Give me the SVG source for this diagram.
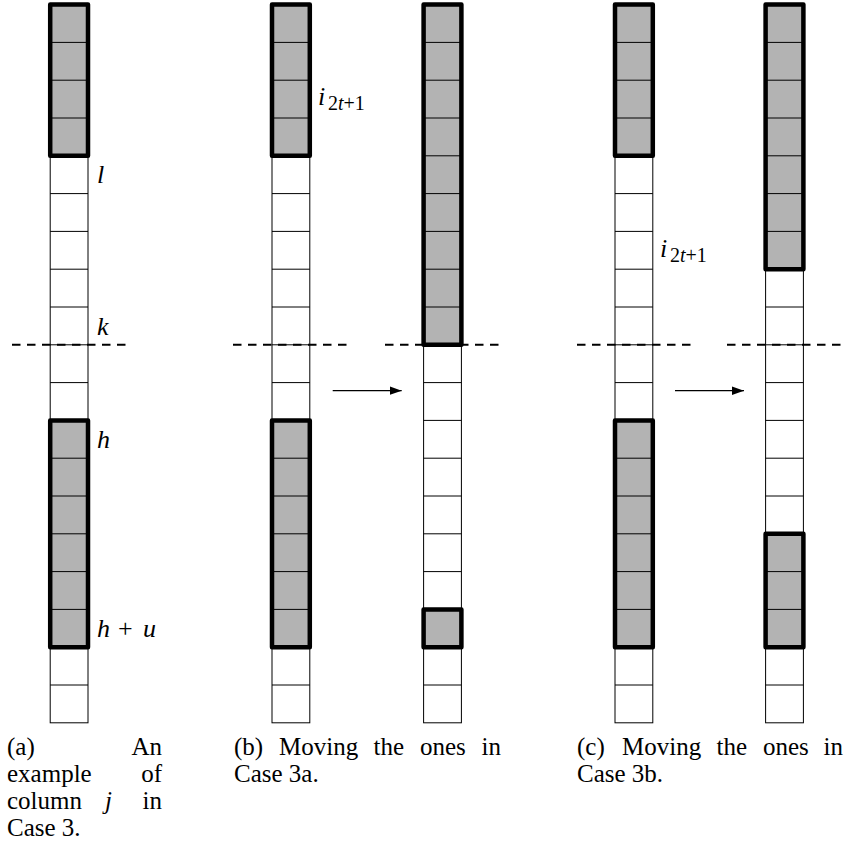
<svg xmlns="http://www.w3.org/2000/svg" xmlns:xlink="http://www.w3.org/1999/xlink" width="846" height="867" viewBox="0 0 846 867">
<style>
.bg{fill:#fff}
.one{fill:#b3b3b3;stroke:none}
.thin{fill:none;stroke:#000;stroke-width:1}
.blk{fill:none;stroke:#000;stroke-width:4.5;stroke-linejoin:round}
.dash{stroke:#000;stroke-width:2;stroke-dasharray:8.5 6.5;fill:none}
.arr{stroke:#000;stroke-width:1.2;fill:none}
text{font-family:"Liberation Serif","Times New Roman",serif;fill:#000}
.m{font-style:italic;font-size:26px}
.up{font-style:normal}
.sub{font-size:20px}
.cap{font-size:25px}
.end{text-anchor:end}
</style>
<defs>
<g id="grid" class="thin">
<rect x="0" y="4.6" width="37.8" height="718.2"/>
<path d="M0 42.4H37.8M0 80.2H37.8M0 118H37.8M0 155.8H37.8M0 193.6H37.8M0 231.4H37.8M0 269.2H37.8M0 307H37.8M0 344.8H37.8M0 382.6H37.8M0 420.4H37.8M0 458.2H37.8M0 496H37.8M0 533.8H37.8M0 571.6H37.8M0 609.4H37.8M0 647.2H37.8M0 685H37.8"/>
</g>
<marker id="ah" markerWidth="13" markerHeight="10" refX="12" refY="5" orient="auto" markerUnits="userSpaceOnUse">
<path d="M0 0.8 L12 5 L0 9.2 Z" fill="#000"/>
</marker>
</defs>
<rect class="bg" x="0" y="0" width="846" height="867"/>

<g id="col-a" transform="translate(50.2,0)">
<rect class="one" x="0" y="4.6" width="37.8" height="151.2"/>
<rect class="one" x="0" y="420.4" width="37.8" height="226.8"/>
<use xlink:href="#grid" href="#grid"/>
<rect class="blk" x="0" y="4.6" width="37.8" height="151.2"/>
<rect class="blk" x="0" y="420.4" width="37.8" height="226.8"/>
</g>

<g id="col-b-left" transform="translate(272,0)">
<rect class="one" x="0" y="4.6" width="37.8" height="151.2"/>
<rect class="one" x="0" y="420.4" width="37.8" height="226.8"/>
<use xlink:href="#grid" href="#grid"/>
<rect class="blk" x="0" y="4.6" width="37.8" height="151.2"/>
<rect class="blk" x="0" y="420.4" width="37.8" height="226.8"/>
</g>

<g id="col-b-right" transform="translate(423.6,0)">
<rect class="one" x="0" y="4.6" width="37.8" height="340.2"/>
<rect class="one" x="0" y="609.4" width="37.8" height="37.8"/>
<use xlink:href="#grid" href="#grid"/>
<rect class="blk" x="0" y="4.6" width="37.8" height="340.2"/>
<rect class="blk" x="0" y="609.4" width="37.8" height="37.8"/>
</g>

<g id="col-c-left" transform="translate(615,0)">
<rect class="one" x="0" y="4.6" width="37.8" height="151.2"/>
<rect class="one" x="0" y="420.4" width="37.8" height="226.8"/>
<use xlink:href="#grid" href="#grid"/>
<rect class="blk" x="0" y="4.6" width="37.8" height="151.2"/>
<rect class="blk" x="0" y="420.4" width="37.8" height="226.8"/>
</g>

<g id="col-c-right" transform="translate(765.6,0)">
<rect class="one" x="0" y="4.6" width="37.8" height="264.6"/>
<rect class="one" x="0" y="533.8" width="37.8" height="113.4"/>
<use xlink:href="#grid" href="#grid"/>
<rect class="blk" x="0" y="4.6" width="37.8" height="264.6"/>
<rect class="blk" x="0" y="533.8" width="37.8" height="113.4"/>
</g>

<g id="connectors">
<path class="dash" d="M12 344.8H127"/>
<path class="dash" d="M233 344.8H348"/>
<path class="dash" d="M385 344.8H500"/>
<path class="dash" d="M577 344.8H692"/>
<path class="dash" d="M727 344.8H843"/>
<path class="arr" d="M332.7 390.7H401.7" marker-end="url(#ah)"/>
<path class="arr" d="M675 390.7H744" marker-end="url(#ah)"/>
</g>

<g id="labels">
<text class="m" x="97" y="183">l</text>
<text class="m" x="97" y="335">k</text>
<text class="m" x="97" y="448">h</text>
<text class="m" y="637"><tspan x="97">h</tspan><tspan class="up" x="118">+</tspan><tspan x="143">u</tspan></text>
<text class="m" y="105"><tspan x="318">i</tspan><tspan class="sub up" x="328" y="110">2</tspan><tspan class="sub">t</tspan><tspan class="sub up">+1</tspan></text>
<text class="m" y="256.5"><tspan x="660">i</tspan><tspan class="sub up" x="670" y="261.5">2</tspan><tspan class="sub">t</tspan><tspan class="sub up">+1</tspan></text>
</g>

<g id="caption-a">
<text class="cap" x="7" y="755">(a)</text>
<text class="cap end" x="162" y="755">An</text>
<text class="cap" x="7" y="782">example</text>
<text class="cap end" x="162" y="782">of</text>
<text class="cap" x="7" y="809">column</text>
<text class="cap" x="105" y="809" font-style="italic">j</text>
<text class="cap end" x="162" y="809">in</text>
<text class="cap" x="7" y="836">Case 3.</text>
</g>

<g id="caption-b">
<text class="cap" y="755"><tspan x="234">(b)</tspan><tspan x="279">Moving</tspan><tspan x="373.5">the</tspan><tspan x="420">ones</tspan></text>
<text class="cap end" x="501" y="755">in</text>
<text class="cap" x="234" y="782">Case 3a.</text>
</g>

<g id="caption-c">
<text class="cap" y="755"><tspan x="577">(c)</tspan><tspan x="622">Moving</tspan><tspan x="716.5">the</tspan><tspan x="763">ones</tspan></text>
<text class="cap end" x="843" y="755">in</text>
<text class="cap" x="577" y="782">Case 3b.</text>
</g>
</svg>
